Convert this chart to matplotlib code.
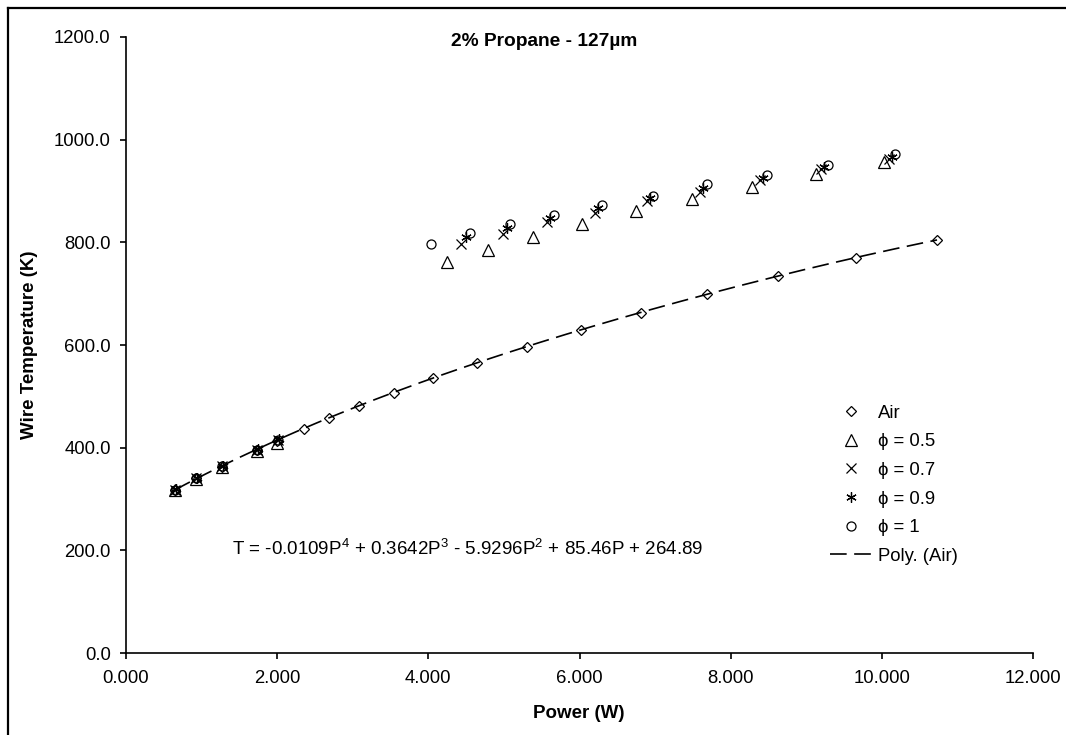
import numpy as np
import matplotlib
matplotlib.use('Agg')
import matplotlib.pyplot as plt
from matplotlib.lines import Line2D

plt.rcParams['font.family'] = ['Liberation Sans', 'DejaVu Sans']
plt.rcParams['mathtext.fontset'] = 'custom'
plt.rcParams['mathtext.rm'] = 'Liberation Sans'

# data
air_p = [0.65, 0.93, 1.27, 1.73, 2.00, 2.35, 2.69, 3.08, 3.55, 4.06,
         4.64, 5.30, 6.02, 6.81, 7.69, 8.63, 9.66, 10.73]
air_t = [318, 340, 363, 395, 413, 436, 457, 482, 507, 535,
         565, 597, 630, 662, 699, 734, 769, 804]

phi05_p = [0.65, 0.93, 1.27, 1.73, 2.00, 4.25, 4.79, 5.38, 6.03, 6.75, 7.49, 8.28, 9.13, 10.03]
phi05_t = [317, 339, 362, 393, 410, 761, 786, 810, 835, 862, 885, 907, 934, 957]

phi07_p = [0.65, 0.93, 1.27, 1.73, 2.01, 4.43, 4.99, 5.57, 6.20, 6.89, 7.59, 8.39, 9.20, 10.10]
phi07_t = [318, 340, 364, 396, 414, 796, 816, 839, 858, 880, 899, 921, 942, 963]

phi09_p = [0.66, 0.94, 1.28, 1.74, 2.02, 4.50, 5.04, 5.61, 6.25, 6.93, 7.64, 8.43, 9.23, 10.13]
phi09_t = [319, 341, 365, 397, 416, 810, 827, 847, 866, 886, 906, 926, 946, 967]

phi1_p = [0.65, 0.93, 1.27, 1.73, 2.01, 4.03, 4.55, 5.08, 5.66, 6.30, 6.97, 7.69, 8.48, 9.29, 10.18]
phi1_t = [318, 340, 364, 396, 415, 796, 818, 835, 854, 872, 891, 913, 932, 951, 973]

# trendline coefficients (from the chart label)
poly_coef = [-0.0109, 0.3642, -5.9296, 85.46, 264.89]

fs = 13.3

# create figure
fig = plt.figure(figsize=(10.66, 7.35), dpi=100)
ax = fig.add_axes([126/1066, 1-653/735, (1033-126)/1066, (653-37)/735])

ms = dict(linestyle='none', color='black', markerfacecolor='none', markeredgewidth=0.9)
ax.plot(air_p, air_t, marker='D', markersize=5.5, label='Air', **ms)
ax.plot(phi05_p, phi05_t, marker='^', markersize=8, label='\u03d5 = 0.5', **ms)
ax.plot(phi07_p, phi07_t, marker='x', markersize=7, label='\u03d5 = 0.7', **ms)
ax.plot(phi09_p, phi09_t, marker=(6, 2, 0), markersize=7.5, label='\u03d5 = 0.9', **ms)
ax.plot(phi1_p, phi1_t, marker='o', markersize=6.5, label='\u03d5 = 1', **ms)

px = np.linspace(min(air_p), max(air_p), 200)
ax.plot(px, np.polyval(poly_coef, px), color='black', linewidth=1.2,
        dashes=(10, 4.5), label='Poly. (Air)')

# axes
ax.set_xlim(0, 12)
ax.set_ylim(0, 1200)
ax.set_xticks(np.arange(0, 12.1, 2))
ax.set_yticks(np.arange(0, 1201, 200))
ax.xaxis.set_major_formatter(matplotlib.ticker.FormatStrFormatter('%.3f'))
ax.yaxis.set_major_formatter(matplotlib.ticker.FormatStrFormatter('%.1f'))
for s in ['top', 'right']:
    ax.spines[s].set_visible(False)
for s in ['left', 'bottom']:
    ax.spines[s].set_linewidth(1.2)
ax.tick_params(direction='out', length=4.5, width=1.2, labelsize=fs, colors='black')
ax.tick_params(axis='y', pad=6.5)
ax.tick_params(axis='x', pad=8)
ax.patch.set_alpha(0)

# axis titles
fig.text(579/1066, 1-713/735, 'Power (W)', ha='center', va='center',
         fontsize=13.5, fontweight='bold')
fig.text(30/1066, 1-345/735, 'Wire Temperature (K)', ha='center', va='center',
         rotation=90, fontsize=13.5, fontweight='bold')

# title
fig.text(544/1066, 1-42/735, '2% Propane - 127\u00b5m', ha='center', va='center',
         fontsize=13.8, fontweight='bold')

# equation
fig.text(232/1066, 1-549/735,
         r'T = -0.0109P$^\mathregular{4}$ + 0.3642P$^\mathregular{3}$ - 5.9296P$^\mathregular{2}$ + 85.46P + 264.89',
         ha='left', va='center', fontsize=13.5)

# legend
ax.legend(loc='upper left', bbox_to_anchor=(813/1066, 1-388/735), bbox_transform=fig.transFigure,
          frameon=False, fontsize=fs, handlelength=2.3, handletextpad=0.32, labelspacing=0.63)

# outer chart border
fig.add_artist(Line2D([8/1066, 8/1066], [0, 1-8/735], color='black', linewidth=1.6))
fig.add_artist(Line2D([8/1066, 1], [1-8/735, 1-8/735], color='black', linewidth=1.6))

fig.savefig('out.png', dpi=100)
